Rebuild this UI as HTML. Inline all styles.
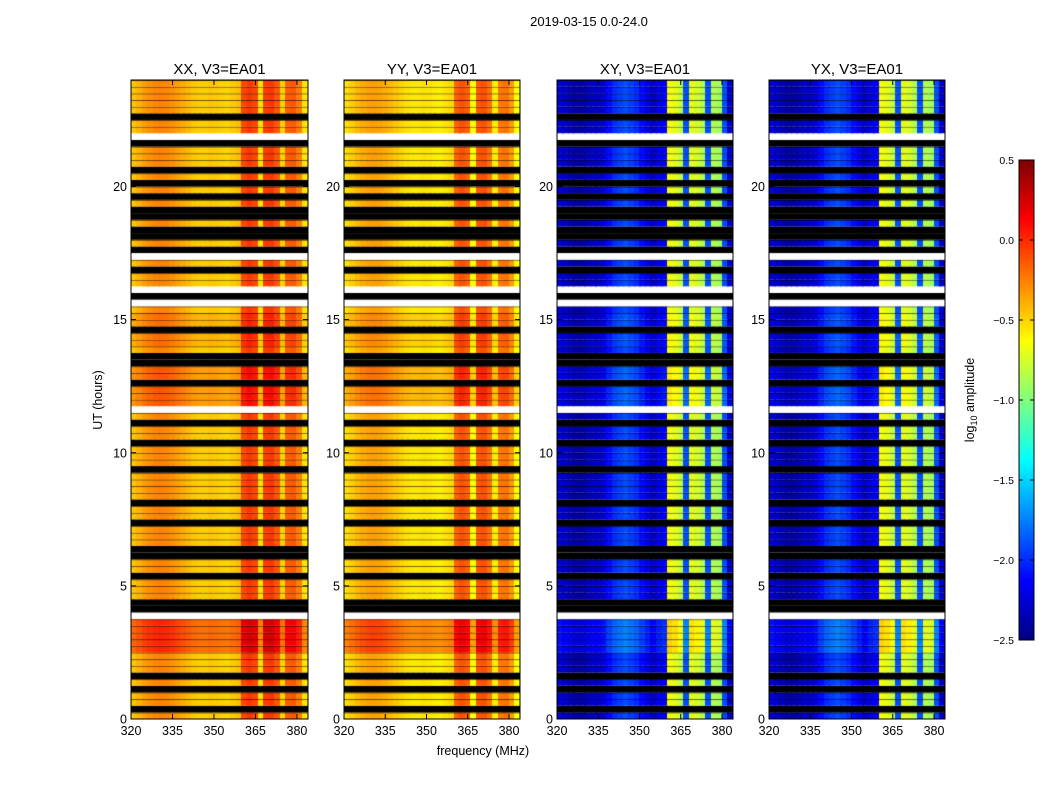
<!DOCTYPE html>
<html><head><meta charset="utf-8"><style>
body{margin:0;background:#fff;width:1050px;height:800px;overflow:hidden;font-family:"Liberation Sans",sans-serif}
#wrap{position:relative;width:1050px;height:800px}
canvas{position:absolute}
svg{position:absolute;left:0;top:0}
</style></head><body>
<div id="wrap">
<canvas id="c0" width="177" height="639" style="left:131px;top:80px"></canvas>
<canvas id="c1" width="176" height="639" style="left:344px;top:80px"></canvas>
<canvas id="c2" width="176" height="639" style="left:557px;top:80px"></canvas>
<canvas id="c3" width="176" height="639" style="left:769px;top:80px"></canvas>
<canvas id="cb" width="15" height="480" style="left:1019px;top:160px"></canvas>
<svg id="ov" width="1050" height="800"></svg>
</div>
<script>
// ---- data ----
const panelTitles=["XX, V3=EA01","YY, V3=EA01","XY, V3=EA01","YX, V3=EA01"];
const xTicks=[320,335,350,365,380];
const yTicks=[0,5,10,15,20];
const cbTicks=[0.5,0.0,-0.5,-1.0,-1.5,-2.0,-2.5];
// channel profiles (log10 amplitude), 2 MHz channels 320..384
const parProfile=[-0.45,-0.4,-0.34,-0.3,-0.27,-0.26,-0.27,-0.3,-0.34,-0.38,-0.42,-0.46,-0.48,-0.48,-0.46,-0.47,-0.49,-0.5,-0.47,-0.44,-0.08,-0.03,-0.08,-0.55,-0.05,-0.03,-0.13,-0.5,-0.15,-0.13,-0.25,-0.55];
const crossProfile=[-2.25,-2.3,-2.35,-2.4,-2.4,-2.35,-2.3,-2.3,-2.25,-2.1,-2.0,-1.95,-1.9,-1.95,-2.0,-2.1,-2.2,-2.3,-2.2,-2.15,-0.65,-0.7,-0.8,-1.9,-0.7,-0.75,-0.85,-1.9,-0.85,-0.9,-1.9,-2.3];
// row flags for 0.25 h rows from 0 to 24 h: k=flagged(black), w=gap(white), digit=level
const rowCodes="5k55k5k55599999wkk555k55kk555k55k5555k555k55k5w777k77kk566k665wkw55k5wk5kk5kk5k5k5k555kw55k55555k";
const polOffset=[0,-0.08,0,0];
const levelScale=[0.07,0.07,0.04,0.04];
// ---- helpers ----
function jet(v){let t=(v+2.5)/3;t=Math.max(0,Math.min(1,t));
 const f=x=>Math.max(0,Math.min(1,x));
 return [f(1.5-Math.abs(4*t-3)),f(1.5-Math.abs(4*t-2)),f(1.5-Math.abs(4*t-1))].map(x=>Math.round(x*255));}
const H=639, T0=80, B0=719;
const yS=h=>B0-h*(639/24);
const px0=[131,344,557,769], pw=[177,176,176,176];
const xS=(p,f)=>px0[p]+(f-320)*(pw[p]/64);
for(let p=0;p<4;p++){
 const cv=document.getElementById('c'+p),g=cv.getContext('2d');
 const prof=p<2?parProfile:crossProfile;
 for(let r=0;r<rowCodes.length;r++){
  const ch=rowCodes[r];
  const y1=yS(r*0.25)-T0,y0=yS((r+1)*0.25)-T0;
  if(ch==='k'){g.fillStyle='#000';g.fillRect(0,y0,cv.width,y1-y0);continue;}
  if(ch==='w'){g.fillStyle='#fff';g.fillRect(0,y0,cv.width,y1-y0);continue;}
  const lv=(parseInt(ch)-5)*levelScale[p];
  for(let c=0;c<prof.length;c++){
   const x0=xS(p,320+c*2)-px0[p],x1=xS(p,322+c*2)-px0[p];
   let v=prof[c]+lv+polOffset[p];
   const [R,G,B]=jet(v);g.fillStyle=`rgb(${R},${G},${B})`;
   g.fillRect(Math.floor(x0),y0,Math.ceil(x1-x0)+1,y1-y0);
  }
  g.fillStyle='rgba(0,0,0,0.6)';g.fillRect(0,y0,cv.width,1);
 }
}
const cb=document.getElementById('cb').getContext('2d');
for(let i=0;i<480;i++){const v=0.5-3*i/480;const [R,G,B]=jet(v);cb.fillStyle=`rgb(${R},${G},${B})`;cb.fillRect(0,i,15,1);}
// ---- overlay ----
const ns='http://www.w3.org/2000/svg',ov=document.getElementById('ov');
function el(t,a,txt){const e=document.createElementNS(ns,t);for(const k in a)e.setAttribute(k,a[k]);if(txt!==undefined)e.textContent=txt;ov.appendChild(e);return e;}
for(let p=0;p<4;p++){
 const fr=el('rect',{x:px0[p],y:T0,width:pw[p],height:H,fill:'none',stroke:'#000','stroke-width':1});
 
 const tt=el('text',{x:px0[p]+pw[p]/2,y:74,'text-anchor':'middle','font-size':15},panelTitles[p]);
 
 xTicks.forEach(f=>{const x=xS(p,f);
  el('line',{x1:x,x2:x,y1:B0,y2:B0-5,stroke:'#000'});el('line',{x1:x,x2:x,y1:T0,y2:T0+5,stroke:'#000'});
  const l=el('text',{x:x,y:B0+16,'text-anchor':'middle','font-size':12.5},String(f));
  });
 yTicks.forEach(h=>{const y=yS(h);
  el('line',{x1:px0[p],x2:px0[p]+5,y1:y,y2:y,stroke:'#000'});el('line',{x1:px0[p]+pw[p],x2:px0[p]+pw[p]-5,y1:y,y2:y,stroke:'#000'});
  const l=el('text',{x:px0[p]-4,y:y+4.5,'text-anchor':'end','font-size':12.5},String(h));
  });
}
el('rect',{x:1019,y:160,width:15,height:480,fill:'none',stroke:'#000'});
cbTicks.forEach(v=>{const y=160+(0.5-v)/3*480;
 el('line',{x1:1019,x2:1023,y1:y,y2:y,stroke:'#000'});el('line',{x1:1034,x2:1030,y1:y,y2:y,stroke:'#000'});
 const l=el('text',{x:1014,y:y+4,'text-anchor':'end','font-size':10.5},(v<0?'\u2212':'')+Math.abs(v).toFixed(1));
 });
const st=el('text',{x:589,y:26,'text-anchor':'middle','font-size':13},'2019-03-15 0.0-24.0');

const xl=el('text',{x:483,y:755,'text-anchor':'middle','font-size':12.5},'frequency (MHz)');

const yl=el('text',{x:0,y:0,'text-anchor':'middle','font-size':12.5,transform:'translate(102,400) rotate(-90)'},'UT (hours)');

const cl=el('text',{x:0,y:0,'text-anchor':'middle','font-size':12.5,transform:'translate(974,400) rotate(-90)'});

cl.innerHTML='log<tspan font-size="9" dy="3">10</tspan><tspan dy="-3"> amplitude</tspan>';
</script>
</body></html>
